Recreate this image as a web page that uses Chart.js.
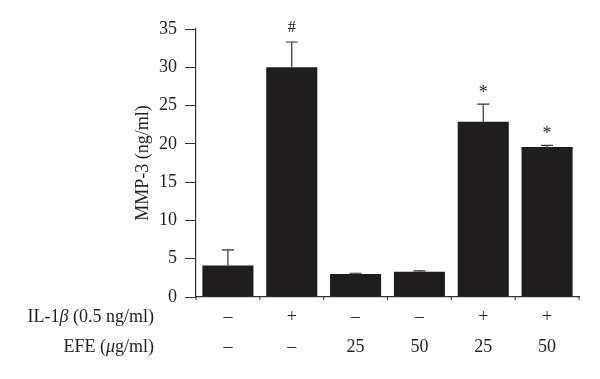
<!DOCTYPE html>
<html>
<head>
<meta charset="utf-8">
<script src="https://cdn.jsdelivr.net/npm/chart.js@4/dist/chart.umd.min.js"></script>
<style>
html,body{margin:0;padding:0;background:#fff;}
#wrap{width:600px;height:379px;position:relative;}
</style>
</head>
<body>
<div id="wrap"><canvas id="c" width="600" height="379"></canvas></div>
<script>
const categories = ["G1","G2","G3","G4","G5","G6"];
const values = [4.1, 30.0, 3.0, 3.3, 22.9, 19.6];
const errors = [2.05, 3.3, 0.1, 0.1, 2.3, 0.2];
const marks = ["", "#", "", "", "*", "*"];
const ilLabels = ["\u2013", "+", "\u2013", "\u2013", "+", "+"];
const efeLabels = ["\u2013", "\u2013", "25", "50", "25", "50"];
const yTicks = [0, 5, 10, 15, 20, 25, 30, 35];

const SERIF = '"Liberation Serif", "Times New Roman", serif';
const TXT = '#231f20';
const FS = 18;

const overlay = {
  id: 'overlay',
  afterDatasetsDraw(chart) {
    const ctx = chart.ctx;
    const x = chart.scales.x, y = chart.scales.y;
    ctx.save();
    // error bars
    ctx.strokeStyle = '#333';
    ctx.lineWidth = 1.2;
    values.forEach((v, i) => {
      const cx = x.getPixelForValue(i);
      const y0 = y.getPixelForValue(v);
      const y1 = y.getPixelForValue(v + errors[i]);
      ctx.beginPath();
      ctx.moveTo(cx, y0);
      ctx.lineTo(cx, y1);
      ctx.moveTo(cx - 6, y1);
      ctx.lineTo(cx + 6, y1);
      ctx.stroke();
    });
    // significance marks
    ctx.fillStyle = TXT;
    ctx.textAlign = 'center';
    ctx.textBaseline = 'middle';
    values.forEach((v, i) => {
      if (!marks[i]) return;
      const cx = x.getPixelForValue(i);
      const y1 = y.getPixelForValue(v + errors[i]);
      ctx.font = (marks[i] === '#' ? '16px ' : '18px ') + SERIF;
      ctx.fillText(marks[i], cx, y1 - (marks[i] === '#' ? 14 : 11));
    });
    // x-axis small ticks at boundaries
    ctx.strokeStyle = '#333';
    ctx.lineWidth = 1;
    for (let i = 0; i <= categories.length; i++) {
      const bx = x.left + (x.right - x.left) * i / categories.length;
      ctx.beginPath();
      ctx.moveTo(bx, y.bottom);
      ctx.lineTo(bx, y.bottom + 3);
      ctx.stroke();
    }
    // bottom label rows
    ctx.font = FS + 'px ' + SERIF;
    ctx.textBaseline = 'middle';
    ctx.textAlign = 'center';
    const rowIL = 317, rowEFE = 347;
    categories.forEach((c, i) => {
      const cx = x.getPixelForValue(i);
      ctx.fillText(ilLabels[i], cx, rowIL);
      ctx.fillText(efeLabels[i], cx, rowEFE);
    });
    function drawParts(parts, rightX, yy) {
      let total = 0;
      parts.forEach(p => { ctx.font = (p[1] ? 'italic ' : '') + FS + 'px ' + SERIF; p.w = ctx.measureText(p[0]).width; total += p.w; });
      let px = rightX - total;
      ctx.textAlign = 'left';
      parts.forEach(p => { ctx.font = (p[1] ? 'italic ' : '') + FS + 'px ' + SERIF; ctx.fillText(p[0], px, yy); px += p.w; });
    }
    drawParts([["IL-1", false], ["\u03B2", true], [" (0.5 ng/ml)", false]], 154, rowIL);
    drawParts([["EFE (", false], ["\u03BC", true], ["g/ml)", false]], 154, rowEFE);
    ctx.restore();
  }
};

new Chart(document.getElementById('c'), {
  type: 'bar',
  data: {
    labels: categories,
    datasets: [{
      data: values,
      backgroundColor: '#1f1d1e',
      borderWidth: 0,
      barPercentage: 0.8,
      categoryPercentage: 1.0
    }]
  },
  options: {
    responsive: false,
    animation: false,
    devicePixelRatio: 1,
    layout: { padding: { top: 29, right: 21, left: 128, bottom: 0 } },
    plugins: { legend: { display: false }, tooltip: { enabled: false } },
    scales: {
      x: {
        grid: { display: false, drawTicks: false },
        border: { display: true, color: '#333', width: 1.2 },
        ticks: { display: false },
        afterFit(s) { s.height = 82; }
      },
      y: {
        min: 0, max: 35,
        afterBuildTicks(s) { s.ticks = yTicks.map(v => ({ value: v })); },
        grid: { display: true, drawOnChartArea: false, drawTicks: true, tickLength: 11, color: '#333', lineWidth: 1 },
        border: { display: true, color: '#333', width: 1.2 },
        ticks: { color: TXT, font: { family: SERIF, size: FS }, padding: 8 },
        title: { display: true, text: 'MMP-3 (ng/ml)', color: TXT, font: { family: SERIF, size: FS }, padding: { top: 4, bottom: 0 } },
        afterFit(s) { s.width = 68; }
      }
    }
  },
  plugins: [overlay]
});
</script>
</body>
</html>
